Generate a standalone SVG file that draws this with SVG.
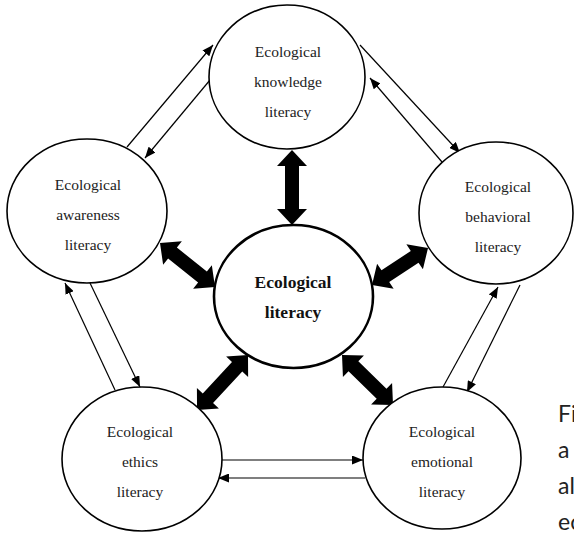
<svg xmlns="http://www.w3.org/2000/svg" width="574" height="534" viewBox="0 0 574 534">
  <style>
    .node ellipse { fill: #fff; stroke: #000; stroke-width: 1.6; }
    .node.core ellipse { stroke-width: 2.6; }
    .label { font-size: 15.5px; fill: #222; text-anchor: middle; }
    .node.core .label { font-size: 17.5px; font-weight: bold; fill: #111; }
    .thin line { stroke: #000; stroke-width: 1.2; marker-end: url(#head); }
    .block polygon { fill: #000; }
    .caption { font-size: 23px; fill: #222; }
  </style>
  <defs>
    <marker id="head" markerUnits="userSpaceOnUse" markerWidth="11" markerHeight="9" refX="11" refY="4.5" orient="auto">
      <path d="M0,0 L11,4.5 L0,9 z" fill="#000"/>
    </marker>
  </defs>

  <rect width="574" height="534" fill="#fff"/>

  <!-- connectors -->
  <g id="connectors">
    <g class="thin">
      <line x1="127" y1="147" x2="213" y2="45"/>
      <line x1="210" y1="80" x2="145" y2="158"/>
      <line x1="360" y1="45" x2="460" y2="153"/>
      <line x1="442" y1="162" x2="370" y2="78"/>
      <line x1="443" y1="387" x2="498" y2="287"/>
      <line x1="520" y1="285" x2="467" y2="392"/>
      <line x1="220" y1="460" x2="363" y2="460"/>
      <line x1="365" y1="478" x2="218" y2="478"/>
      <line x1="115" y1="390" x2="65" y2="283"/>
      <line x1="90" y1="283" x2="140" y2="387"/>
    </g>
    <g class="block">
      <!-- double-headed block arrows, drawn along +x then rotated -->
      <polygon transform="translate(292,150) rotate(90)" points="0,0 16,-15 16,-7 59,-7 59,-15 75,0 59,15 59,7 16,7 16,15"/>
      <polygon transform="translate(160,243) rotate(38.66)" points="0,0 16,-15 16,-7 54.4,-7 54.4,-15 70.4,0 54.4,15 54.4,7 16,7 16,15"/>
      <polygon transform="translate(428,248) rotate(146.55)" points="0,0 16,-15 16,-7 51.1,-7 51.1,-15 67.1,0 51.1,15 51.1,7 16,7 16,15"/>
      <polygon transform="translate(248,355) rotate(132.8)" points="0,0 16,-15 16,-7 59,-7 59,-15 75,0 59,15 59,7 16,7 16,15"/>
      <polygon transform="translate(342,355) rotate(44.4)" points="0,0 16,-15 16,-7 55.4,-7 55.4,-15 71.4,0 55.4,15 55.4,7 16,7 16,15"/>
    </g>
  </g>

  <g font-family="Liberation Serif, DejaVu Serif, serif">
    <g id="knowledge" class="node">
      <ellipse cx="287" cy="77" rx="78" ry="72"/>
      <text class="label" x="288" y="57">Ecological</text>
      <text class="label" x="288" y="87">knowledge</text>
      <text class="label" x="288" y="117">literacy</text>
    </g>

    <g id="awareness" class="node">
      <ellipse cx="87" cy="211" rx="80" ry="72"/>
      <text class="label" x="88" y="190">Ecological</text>
      <text class="label" x="88" y="220">awareness</text>
      <text class="label" x="88" y="250">literacy</text>
    </g>

    <g id="behavioral" class="node">
      <ellipse cx="496" cy="213" rx="77" ry="71"/>
      <text class="label" x="498" y="192">Ecological</text>
      <text class="label" x="498" y="222">behavioral</text>
      <text class="label" x="498" y="252">literacy</text>
    </g>

    <g id="core" class="node core">
      <ellipse cx="293.5" cy="296.5" rx="79.5" ry="71.5"/>
      <text class="label" x="293" y="288">Ecological</text>
      <text class="label" x="293" y="318">literacy</text>
    </g>

    <g id="ethics" class="node">
      <ellipse cx="142" cy="459" rx="80" ry="72"/>
      <text class="label" x="140" y="437">Ecological</text>
      <text class="label" x="140" y="467">ethics</text>
      <text class="label" x="140" y="497">literacy</text>
    </g>

    <g id="emotional" class="node">
      <ellipse cx="442" cy="458" rx="79" ry="71"/>
      <text class="label" x="442" y="437">Ecological</text>
      <text class="label" x="442" y="467">emotional</text>
      <text class="label" x="442" y="497">literacy</text>
    </g>
  </g>

  <!-- caption running off the right edge -->
  <g id="caption" font-family="Lato, Open Sans, sans-serif">
    <text class="caption" x="558" y="422">Fi</text>
    <text class="caption" x="558" y="458">a</text>
    <text class="caption" x="558" y="494">al</text>
    <text class="caption" x="558" y="530">ec</text>
  </g>
</svg>
